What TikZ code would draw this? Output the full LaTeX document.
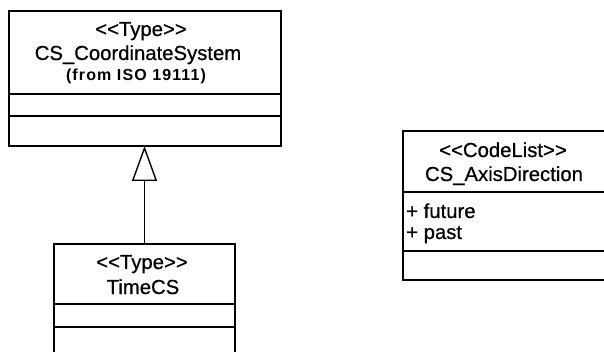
\documentclass[tikz,border=0pt]{standalone}
\usepackage{fontspec}
\setmainfont{Liberation Sans}
\usetikzlibrary{arrows.meta, positioning}

% stereotype with the << >> ligatures broken up
\newcommand{\stereo}[1]{<{}<#1>{}>}

\begin{document}
\begin{tikzpicture}[x=1pt, y=-1pt,
  classbox/.style={draw=black, line width=1.4pt, inner sep=0pt, outer sep=0pt, anchor=north west},
  sepline/.style={line width=1.4pt},
  nametext/.style={font=\fontsize{20.3}{24}\selectfont\addfontfeature{FakeBold=0.6}, inner sep=0pt, anchor=base},
  fromtext/.style={font=\fontsize{16}{19}\selectfont\bfseries\addfontfeature{LetterSpace=7}, inner sep=0pt, anchor=base},
  attrtext/.style={font=\fontsize{20.3}{24}\selectfont\addfontfeature{FakeBold=0.6}, inner sep=0pt, anchor=base west},
  gen/.style={line width=1.4pt, -{Triangle[open, length=35pt, width=25pt]}}]
  \useasboundingbox (0,0) rectangle (604,352);
  \clip (0,0) rectangle (604,352);

  % CS_CoordinateSystem -- x 9..281, y 11..146
  \node[classbox, minimum width=272pt, minimum height=135pt] (coordsys) at (9,11) {};
  \draw[sepline] (9,94) -- (281,94);
  \draw[sepline] (9,116) -- (281,116);
  \node[nametext] (coordsysst) at (141,36) {\stereo{Type}};
  \node[nametext] (coordsysname) at (138,60) {CS\_CoordinateSystem};
  \node[fromtext] (coordsysfrom) at (136,81) {(from ISO 19111)};

  % TimeCS -- x 54..235, runs off the bottom
  \node[classbox, minimum width=181pt, minimum height=116pt] (timecs) at (54,244) {};
  \draw[sepline] (54,304) -- (235,304);
  \draw[sepline] (54,327) -- (235,327);
  \node[nametext] (timecsst) at (142,269) {\stereo{Type}};
  \node[nametext] (timecsname) at (143,294) {TimeCS};

  % CS_AxisDirection -- x 403..606, y 131..280
  \node[classbox, minimum width=203pt, minimum height=149pt] (axisdir) at (403,131) {};
  \draw[sepline] (403,192) -- (606,192);
  \draw[sepline] (403,251) -- (606,251);
  \node[nametext] (axisdirst) at (503,157) {\stereo{CodeList}};
  \node[nametext] (axisdirname) at (504,181) {CS\_AxisDirection};
  \node[attrtext] (future) at (406,218) {+ future};
  \node[attrtext] (past) at (406,239) {+ past};

  % generalization
  \draw[gen] (timecs.north) -- (timecs.north |- coordsys.south);
\end{tikzpicture}
\end{document}
